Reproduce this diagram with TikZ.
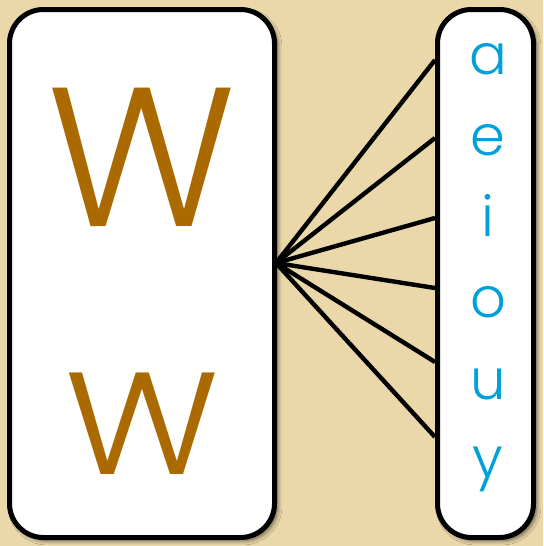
\documentclass[tikz,border=0pt]{standalone}
\usepackage{fontspec}
\setmainfont{Poppins}[UprightFont=* Light]
\usetikzlibrary{shadows.blur}
\definecolor{parchment}{RGB}{234,215,170}
\definecolor{ochre}{RGB}{170,106,0}
\definecolor{vowelblue}{RGB}{0,160,216}
\begin{document}
\begin{tikzpicture}[x=0.5pt, y=-0.5pt,
                    card/.style = {draw, line width=2.5pt, fill=white, rounded corners=17pt, inner sep=0pt,
                                   blur shadow={shadow xshift=1.5pt, shadow yshift=-1.5pt, shadow blur steps=8, shadow opacity=60}},
                    bigletter/.style = {text=ochre, anchor=base, inner sep=0pt},
                    vowel/.style = {text=vowelblue, anchor=base, inner sep=0pt, font=\fontsize{28}{28}\selectfont},
                    link/.style = {line width=2.2pt}
                ]
                \useasboundingbox (0,0) rectangle (543,546);
                \fill[parchment] (0,0) rectangle (543,546);
                \node[card, minimum width=132.5pt, minimum height=264pt] (left) at (142,273.5) {};
                \node[card, minimum width=48pt, minimum height=264pt] (right) at (485.5,273.5) {};
                \node[bigletter, font=\fontsize{99}{99}\selectfont] (upperW) at (142,226) {W};
                \node[bigletter, font=\fontsize{93}{93}\selectfont] (lowerw) at (142,474) {w};
                \foreach \v/\yb in {a/74, e/155, i/236, o/317, u/399, y/477}
                    \node[vowel] (\v) at (488,\yb) {\v};
                \coordinate (hub) at (276,263);
                \foreach \v/\yy in {a/60, e/138, i/218, o/288, u/362, y/437} {
                    \coordinate (end-\v) at (right.west |- 0,\yy);
                    \draw[link] (hub) -- (end-\v);
                }
\end{tikzpicture}
\end{document}
